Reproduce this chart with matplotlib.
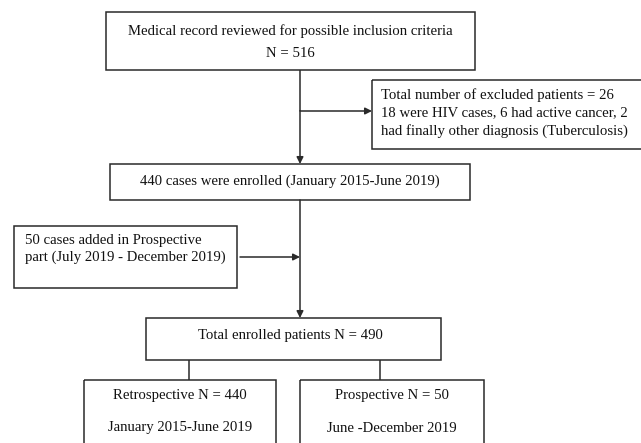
import matplotlib
matplotlib.use("Agg")
import matplotlib.pyplot as plt
from matplotlib.patches import Rectangle

# texts of the flowchart
screen_lines = ["Medical record reviewed for possible inclusion criteria", "N = 516"]
excluded_lines = ["Total number of excluded patients = 26",
                  "18 were HIV cases, 6 had active cancer, 2",
                  "had finally other diagnosis (Tuberculosis)"]
enrolled_text = "440 cases were enrolled (January 2015-June 2019)"
added_lines = ["50 cases added in Prospective", "part (July 2019 - December 2019)"]
total_text = "Total enrolled patients N = 490"
retro_lines = ["Retrospective N = 440", "January 2015-June 2019"]
prosp_lines = ["Prospective N = 50", "June -December 2019"]

W, H = 641, 443
plt.rcParams['font.family'] = ['Liberation Serif', 'DejaVu Serif']
FS = 10.6
EC = '#2a2a2a'

fig = plt.figure(figsize=(W / 100, H / 100), dpi=100)
ax = fig.add_axes([0, 0, 1, 1])
ax.set_xlim(0, W)
ax.set_ylim(H, 0)
ax.axis('off')


def box(x0, y0, x1, y1):
    ax.add_patch(Rectangle((x0, y0), x1 - x0, y1 - y0, fill=False, ec=EC, lw=1.1))


def line(xs, ys):
    ax.plot(xs, ys, color=EC, lw=1.1, solid_capstyle='butt')


def arrow(x0, y0, x1, y1):
    ax.annotate('', xy=(x1, y1), xytext=(x0, y0),
                arrowprops=dict(arrowstyle='-|>', color=EC, lw=1.1,
                                mutation_scale=10, shrinkA=0, shrinkB=0))


def texts(lines, x, ys, ha='center'):
    for t, y in zip(lines, ys):
        ax.text(x, y, t, ha=ha, va='center', fontsize=FS, color='#111111')


# screening box
box(106, 12, 475, 70)
texts(screen_lines, 290.5, [31, 53])

# main trunk and exclusion branch
line([300, 300], [70, 111])
arrow(300, 111, 372, 111)
arrow(300, 111, 300, 164)
box(372, 80, 650, 149)
texts(excluded_lines, 381, [95, 113, 131], ha='left')

# enrolled box
box(110, 164, 470, 200)
texts([enrolled_text], 290, [181])

# prospective addition
box(14, 226, 237, 288)
texts(added_lines, 25, [240, 257], ha='left')
arrow(240, 257, 300, 257)
arrow(300, 200, 300, 318)

# total box
box(146, 318, 441, 360)
texts([total_text], 290, [335])

# split
line([189, 189], [360, 380])
line([380, 380], [360, 380])
box(84, 380, 276, 460)
texts(retro_lines, 180, [396, 428])
box(300, 380, 484, 460)
texts(prosp_lines, 392, [396, 428])

fig.savefig("out.png", dpi=100)
